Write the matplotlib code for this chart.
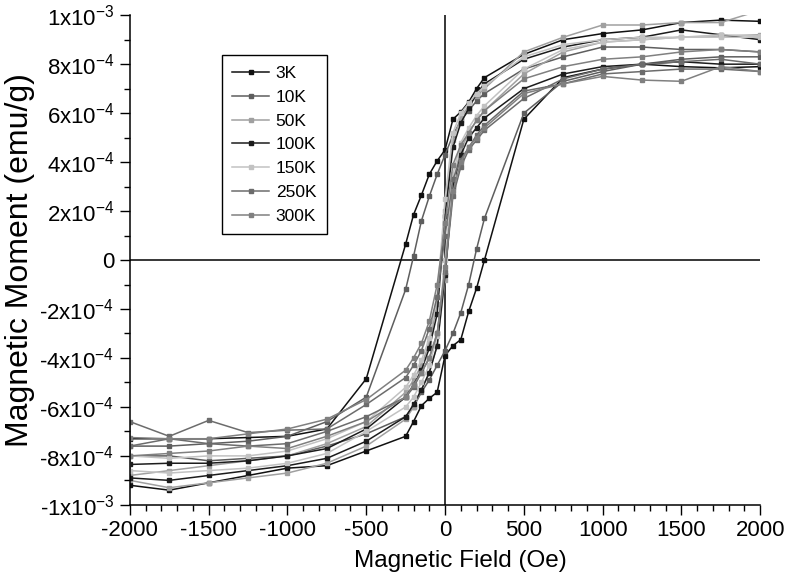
import numpy as np
import matplotlib.pyplot as plt
from matplotlib.ticker import MultipleLocator, FuncFormatter

plt.rcParams['font.family'] = ['Liberation Sans', 'DejaVu Sans']
plt.rcParams['mathtext.fontset'] = 'custom'
plt.rcParams['mathtext.rm'] = 'Liberation Sans'
plt.rcParams['mathtext.it'] = 'Liberation Sans'
plt.rcParams['axes.unicode_minus'] = False

# field sweep: down branch (+2000 -> -2000) then up branch (-2000 -> +2000)
field_down = [2000, 1750, 1500, 1250, 1000, 750, 500, 250, 200, 150, 100, 50, 0,
              -50, -100, -150, -200, -250, -500, -750, -1000, -1250, -1500, -1750, -2000]
field_up = field_down[::-1]

temps = ['3K', '10K', '50K', '100K', '150K', '250K', '300K']
colors = ['#111111', '#5e5e5e', '#a0a0a0', '#1c1c1c', '#c2c2c2', '#6c6c6c', '#808080']

# moment values in units of 1e-4 emu/g
m_3K_down = [9.75, 9.8, 9.7, 9.4, 9.25, 9.0, 8.4, 7.45, 7.0, 6.45, 6.05, 5.75, 4.5,
             4.05, 3.5, 2.65, 1.85, 0.65, -4.85, -6.9, -7.2, -7.25, -7.3, -7.3, -7.3]
m_3K_up = [-9.2, -9.4, -9.1, -8.8, -8.5, -8.4, -7.8, -7.2, -6.6, -5.95, -5.65, -5.4, -3.9,
           -3.5, -3.25, -2.1, -1.15, 0.0, 5.75, 7.45, 7.8, 8.0, 7.9, 7.85, 7.9]
m_10K_down = [8.5, 8.6, 8.6, 8.7, 8.7, 8.3, 7.8, 6.8, 6.5, 6.1, 5.7, 5.1, 4.3,
              3.5, 2.6, 1.6, 0.15, -1.2, -5.6, -6.6, -7.2, -7.4, -7.5, -7.6, -7.6]
m_10K_up = [-8.0, -8.0, -8.2, -8.1, -8.0, -7.6, -7.1, -6.4, -6.0, -5.4, -4.9, -4.3, -3.7,
            -3.0, -2.15, -1.0, 0.45, 1.7, 6.0, 7.3, 7.7, 8.0, 8.2, 8.3, 8.3]
m_50K_down = [10.2, 9.7, 9.7, 9.6, 9.6, 9.1, 8.5, 7.0, 6.7, 6.3, 5.8, 4.9, 2.0,
              -1.8, -3.4, -4.3, -4.9, -5.4, -6.8, -7.5, -8.0, -8.2, -8.4, -8.6, -8.8]
m_50K_up = [-9.0, -9.3, -9.1, -8.9, -8.7, -8.3, -7.6, -6.5, -6.0, -5.3, -4.6, -3.5, -0.8,
            3.2, 4.5, 5.2, 5.7, 6.1, 7.6, 8.5, 8.9, 9.0, 9.1, 9.15, 9.2]
m_100K_down = [9.0, 9.2, 9.4, 9.1, 9.0, 8.7, 8.2, 7.2, 6.8, 6.2, 5.6, 4.6, 1.8,
               -2.2, -3.6, -4.5, -5.1, -5.6, -6.9, -7.7, -8.0, -8.2, -8.3, -8.3, -8.35]
m_100K_up = [-8.9, -9.0, -8.8, -8.6, -8.4, -8.1, -7.4, -6.4, -5.9, -5.3, -4.6, -3.5, -0.6,
             3.0, 4.3, 5.0, 5.4, 5.8, 7.0, 7.6, 7.9, 8.0, 8.1, 8.0, 8.0]
m_150K_down = [9.15, 9.2, 9.1, 9.1, 9.0, 8.8, 8.3, 7.1, 6.8, 6.4, 6.0, 5.2, 2.5,
               -1.5, -3.2, -4.1, -4.7, -5.2, -6.6, -7.3, -7.8, -8.0, -8.0, -8.1, -8.0]
m_150K_up = [-8.6, -8.7, -8.6, -8.5, -8.3, -7.9, -7.0, -6.0, -5.6, -5.0, -4.3, -3.1, 0.0,
             3.5, 4.8, 5.4, 5.9, 6.3, 7.8, 8.6, 8.9, 9.0, 9.1, 9.1, 9.1]
m_250K_down = [7.7, 7.8, 7.8, 7.7, 7.6, 7.2, 6.9, 5.5, 5.1, 4.6, 4.1, 3.3, 1.0,
               -1.5, -2.8, -3.7, -4.3, -4.8, -5.9, -6.9, -6.95, -7.05, -6.55, -7.2, -6.6]
m_250K_up = [-7.6, -7.3, -7.5, -7.6, -7.5, -7.0, -6.4, -5.6, -5.2, -4.6, -4.0, -3.0, -0.5,
             2.6, 3.8, 4.5, 4.9, 5.3, 6.6, 7.4, 7.8, 8.0, 8.1, 8.2, 8.0]
m_300K_down = [8.5, 8.6, 8.5, 8.3, 8.2, 7.9, 7.4, 6.1, 5.7, 5.2, 4.7, 3.9, 1.5,
               -1.0, -2.5, -3.4, -4.0, -4.5, -5.7, -6.5, -6.9, -7.1, -7.3, -7.3, -7.25]
m_300K_up = [-8.0, -7.9, -7.8, -7.6, -7.7, -7.2, -6.6, -5.6, -5.1, -4.6, -4.0, -3.0, -0.3,
             2.8, 4.0, 4.6, 5.0, 5.4, 6.8, 7.2, 7.5, 7.35, 7.3, 7.9, 7.7]

downs = [m_3K_down, m_10K_down, m_50K_down, m_100K_down, m_150K_down, m_250K_down, m_300K_down]
ups = [m_3K_up, m_10K_up, m_50K_up, m_100K_up, m_150K_up, m_250K_up, m_300K_up]

fig = plt.figure(figsize=(7.87, 5.85), dpi=100)
ax = fig.add_axes([0.165, 0.137, 0.801, 0.837])

field = field_down + field_up
for i in range(len(temps)):
    moment = np.array(downs[i] + ups[i]) * 1e-4
    ax.plot(field, moment, color=colors[i], lw=1.1, marker='s', ms=3.2,
            label=temps[i])

ax.axhline(0, color='black', lw=1.1, zorder=0)
ax.axvline(0, color='black', lw=1.1, zorder=0)

ax.set_xlim(-2000, 2000)
ax.set_ylim(-1e-3, 1e-3)
ax.xaxis.set_major_locator(MultipleLocator(500))
ax.xaxis.set_minor_locator(MultipleLocator(100))
ax.yaxis.set_major_locator(MultipleLocator(2e-4))
ax.yaxis.set_minor_locator(MultipleLocator(1e-4))


def sci(v, pos):
    if abs(v) < 1e-12:
        return '0'
    e = int(np.floor(np.log10(abs(v)) + 1e-9))
    m = int(round(v / 10 ** e))
    return '%dx10$^{%d}$' % (m, e)


ax.yaxis.set_major_formatter(FuncFormatter(sci))
ax.tick_params(which='major', direction='out', length=7, width=1, labelsize=16, pad=4)
ax.tick_params(which='minor', direction='out', length=4, width=1)
for s in ['top', 'right']:
    ax.spines[s].set_visible(False)
for s in ['left', 'bottom']:
    ax.spines[s].set_linewidth(1.1)

ax.set_xlabel('Magnetic Field (Oe)', fontsize=17.5)
ax.xaxis.set_label_coords(0.524, -0.092)
ax.set_ylabel('Magnetic Moment (emu/g)', fontsize=23, labelpad=3)

leg = ax.legend(loc='upper left', bbox_to_anchor=(0.146, 0.918), fontsize=12.5,
                numpoints=1, handlelength=2.1, labelspacing=0.5, handletextpad=0.4,
                borderpad=0.6, fancybox=False, framealpha=1, borderaxespad=0)
leg.get_frame().set_edgecolor('black')
leg.get_frame().set_linewidth(1.0)

fig.savefig('out.png', dpi=100)
